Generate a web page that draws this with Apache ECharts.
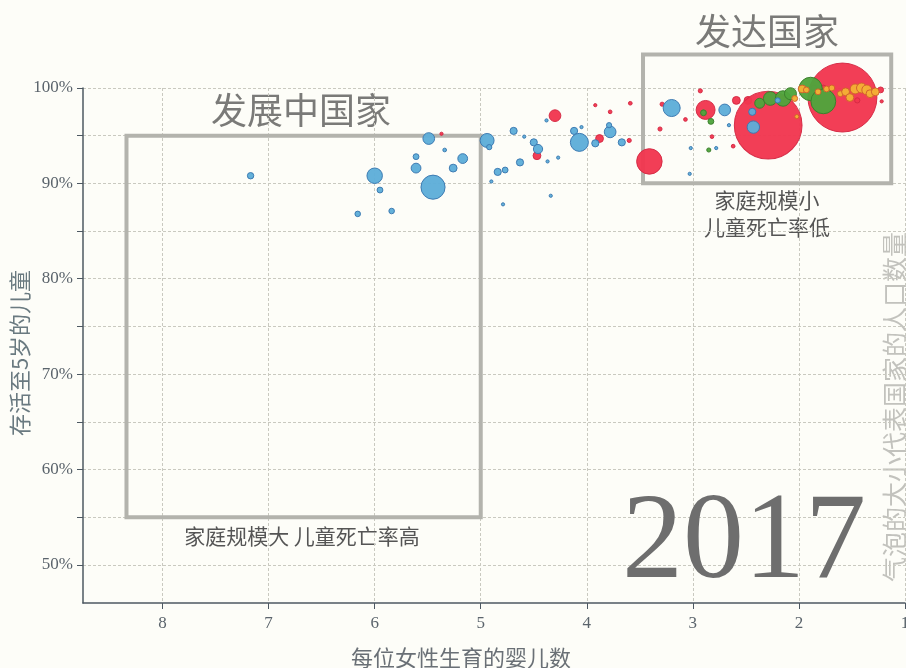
<!DOCTYPE html>
<html>
<head>
<meta charset="utf-8">
<title>2017 每位女性生育的婴儿数 / 存活至5岁的儿童</title>
<script src="https://cdn.jsdelivr.net/npm/echarts@6/dist/echarts.min.js"></script>
<style>
    html, body { margin: 0; padding: 0; background: #fdfdf8; }
    #chart { width: 906px; height: 668px; }
</style>
</head>
<body>
<div id="chart"></div>
<script>
// 每一项: [每位女性生育的婴儿数, 存活至5岁的儿童(%), 人口(百万)]
var africaData = [
    [7.17, 90.8, 12], [6.00, 90.8, 70], [5.95, 89.3, 10], [6.16, 86.8, 9],
    [5.84, 87.1, 9], [5.49, 94.7, 40], [5.61, 92.8, 10], [5.61, 91.6, 28],
    [5.45, 89.6, 170], [5.34, 93.5, 4], [5.26, 91.6, 18], [5.17, 92.6, 28],
    [4.94, 94.5, 57], [4.92, 93.8, 8], [4.69, 95.5, 15], [4.59, 94.9, 3],
    [4.50, 94.3, 15], [4.46, 93.6, 25], [4.63, 92.2, 15], [4.84, 91.2, 15],
    [4.77, 91.4, 10], [4.90, 90.2, 3], [4.37, 92.3, 3], [4.27, 92.7, 3],
    [4.34, 88.7, 3], [4.79, 87.8, 3], [4.38, 96.6, 3], [4.12, 95.5, 15],
    [4.07, 94.3, 95], [4.05, 95.9, 3], [3.92, 94.2, 15], [3.78, 95.4, 40],
    [3.79, 96.1, 8], [3.67, 94.3, 15], [3.20, 97.9, 85], [2.70, 97.7, 40],
    [2.43, 95.9, 45], [2.44, 97.5, 15], [2.20, 98.7, 8], [3.03, 91.0, 3],
    [3.02, 93.7, 3], [2.78, 93.7, 3], [2.66, 96.1, 3]
];
var asiaData = [
    [4.30, 97.1, 40], [4.47, 92.9, 18], [3.88, 94.7, 18], [3.60, 94.5, 5],
    [3.92, 98.2, 3], [3.78, 97.5, 4], [3.59, 98.4, 4], [3.41, 92.3, 190],
    [3.29, 98.3, 5], [3.07, 96.7, 4], [3.31, 95.7, 5], [2.93, 99.7, 5],
    [2.88, 97.7, 105], [2.59, 98.7, 18], [2.48, 98.7, 18], [2.82, 94.9, 4],
    [2.62, 93.9, 4], [2.29, 96.1, 1340], [1.59, 99.0, 1390], [1.86, 100.0, 10],
    [1.77, 100.0, 10], [1.22, 98.6, 3], [1.23, 99.8, 10], [1.45, 98.7, 8],
    [5.37, 95.2, 3]
];
var americasData = [
    [2.90, 97.4, 10], [2.83, 96.5, 10], [2.85, 93.5, 5], [2.37, 98.4, 29],
    [2.27, 98.9, 55], [2.15, 98.9, 70], [2.08, 99.4, 42], [1.89, 99.9, 160],
    [1.77, 98.6, 180]
];
var europeData = [
    [1.97, 99.9, 18], [1.93, 99.8, 10], [1.82, 99.6, 10], [1.74, 99.9, 10],
    [1.69, 100.0, 10], [1.61, 99.4, 10], [1.56, 99.6, 18], [1.52, 99.0, 18],
    [1.47, 99.9, 29], [1.41, 100.0, 29], [1.36, 99.8, 29], [1.33, 99.4, 18],
    [1.28, 99.6, 18], [2.04, 98.9, 10], [2.02, 97.0, 5]
];

var xTicks = [1, 2, 3, 4, 5, 6, 7, 8];
var yTicks = [50, 55, 60, 65, 70, 75, 80, 85, 90, 95, 100];
var yLabels = [50, 60, 70, 80, 90, 100];

// 方框: [左x, 上y, 右x, 下y]
var boxes = [
    [8.34, 95, 5, 55],
    [3.47, 103.5, 1.13, 90]
];

var chart = echarts.init(document.getElementById('chart'));

var serif = '"Liberation Serif", "DejaVu Serif", serif';
var cjk = '"Noto Sans CJK SC", sans-serif';

function bubble(name, data, color, border) {
    return {
        name: name,
        type: 'scatter',
        data: data,
        clip: false,
        symbolSize: function (val) {
            return Math.sqrt(val[2]) * 1.85;
        },
        itemStyle: {
            color: color,
            borderColor: border,
            borderWidth: 1,
            opacity: 0.96
        }
    };
}

function label(text, x, y, size, color) {
    return {
        type: 'text',
        style: {
            text: text, x: x, y: y, fill: color,
            font: size + 'px ' + cjk, textAlign: 'center', textVerticalAlign: 'middle'
        }
    };
}

var option = {
    backgroundColor: '#fdfdf8',
    animation: false,
    grid: {
        left: 83,
        right: 1,
        top: 88,
        bottom: 65,
        outerBoundsMode: 'none',
        containLabel: false
    },
    xAxis: {
        type: 'value',
        inverse: true,
        min: 1,
        max: 8.75,
        axisLine: { lineStyle: { color: '#4d5862', width: 1.5 } },
        axisTick: { customValues: xTicks, length: 6, lineStyle: { color: '#4d5862' } },
        axisLabel: {
            customValues: xTicks,
            fontFamily: serif,
            fontSize: 17,
            color: '#5b646c',
            margin: 12
        },
        splitLine: {
            show: true,
            lineStyle: { color: '#c9c9c0', type: [3, 2], width: 1 }
        }
    },
    yAxis: {
        type: 'value',
        min: 46,
        max: 100,
        axisLine: { show: true, lineStyle: { color: '#4d5862', width: 1.5 } },
        axisTick: { customValues: yTicks, length: 6, lineStyle: { color: '#4d5862' } },
        axisLabel: {
            customValues: yLabels,
            formatter: '{value}%',
            fontFamily: serif,
            fontSize: 17,
            color: '#5b646c',
            margin: 10
        },
        splitLine: {
            show: true,
            lineStyle: { color: '#c9c9c0', type: [3, 2], width: 1 }
        }
    },
    graphic: [
        {
            type: 'text',
            z: 1,
            style: {
                text: '2017', x: 744, y: 545, fill: '#6e6e6e',
                font: '122px ' + serif, textAlign: 'center', textVerticalAlign: 'middle'
            }
        },
        label('发展中国家', 301, 110, 36, '#7a7a78'),
        label('发达国家', 767, 31, 36, '#7a7a78'),
        label('家庭规模大 儿童死亡率高', 302, 536, 21, '#555555'),
        label('家庭规模小', 767, 200, 21, '#555555'),
        label('儿童死亡率低', 767, 227, 21, '#555555'),
        label('每位女性生育的婴儿数', 461, 658, 22, '#6a7076'),
        {
            type: 'text',
            x: 20, y: 353, rotation: Math.PI / 2,
            style: {
                text: '存活至5岁的儿童', x: 0, y: 0, fill: '#6a7a80',
                font: '22px ' + cjk, textAlign: 'center', textVerticalAlign: 'middle'
            }
        },
        {
            type: 'text',
            x: 894, y: 407, rotation: Math.PI / 2,
            style: {
                text: '气泡的大小代表国家的人口数量', x: 0, y: 0, fill: '#c2c2bd',
                font: '25px ' + cjk, textAlign: 'center', textVerticalAlign: 'middle'
            }
        }
    ],
    series: [
        {
            type: 'custom',
            clip: false,
            silent: true,
            z: 1,
            data: boxes,
            renderItem: function (params, api) {
                var p1 = api.coord([api.value(0), api.value(1)]);
                var p2 = api.coord([api.value(2), api.value(3)]);
                return {
                    type: 'rect',
                    shape: {
                        x: Math.min(p1[0], p2[0]),
                        y: Math.min(p1[1], p2[1]),
                        width: Math.abs(p2[0] - p1[0]),
                        height: Math.abs(p2[1] - p1[1])
                    },
                    style: { fill: 'none', stroke: '#b3b3ad', lineWidth: 4 }
                };
            }
        },
        bubble('亚洲', asiaData, '#f1364f', '#d42a44'),
        bubble('美洲', americasData, '#4fa43c', '#3a7e2c'),
        bubble('非洲', africaData, '#5eaed9', '#3a78b0'),
        bubble('欧洲', europeData, '#f4b134', '#d0602c')
    ]
};

chart.setOption(option);
</script>
</body>
</html>
